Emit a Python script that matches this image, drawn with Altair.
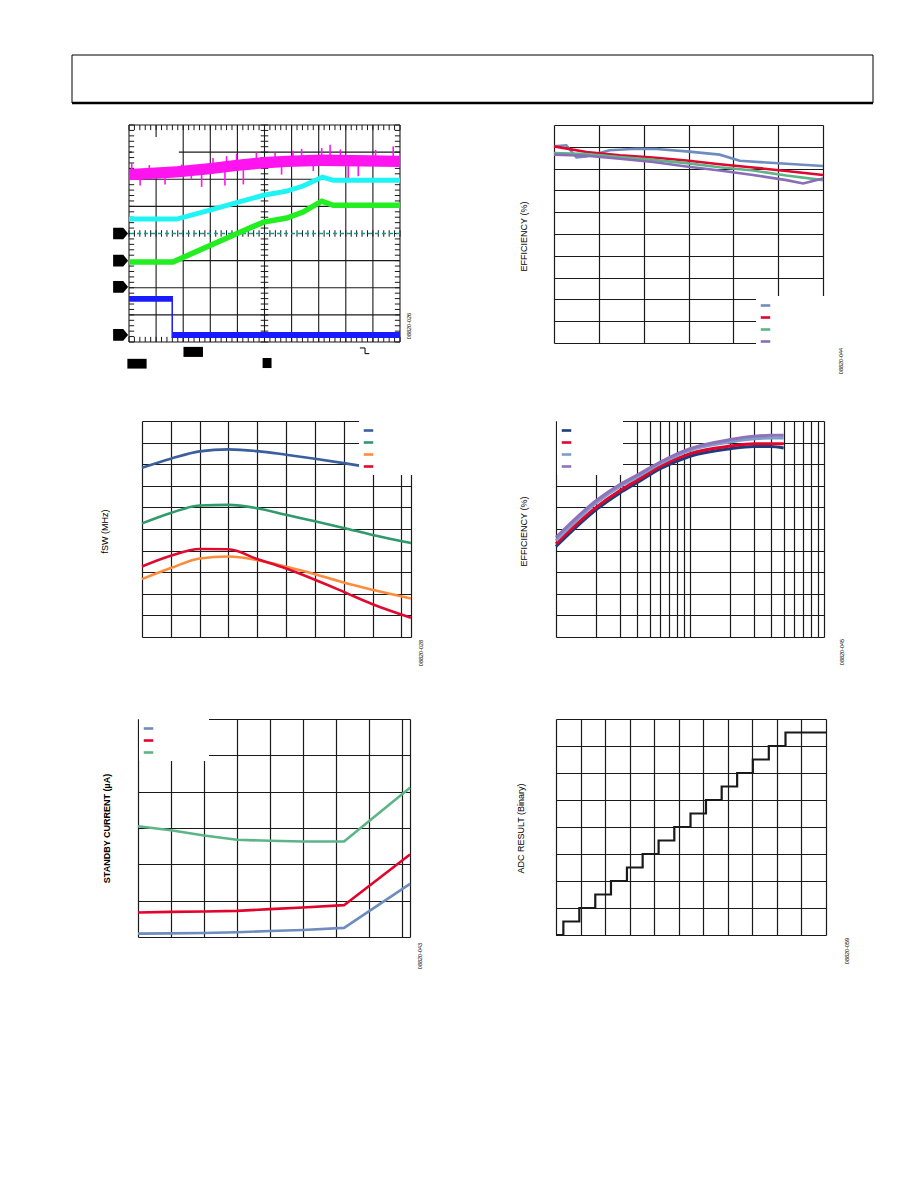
import altair as alt
import pandas as pd

FONT = "Liberation Sans"
GRID = "#1a1a1a"

# ================= Panel A: oscilloscope capture (x: 0-10 div, y: 0-8 div) =================
SCOPE_GRID_X = [0, 1, 2, 3, 4, 5, 6, 7, 8, 9, 10]
SCOPE_GRID_Y = [0, 1, 2, 3, 5, 6, 7, 8]
MAG_X = [0.0, 1.76, 2.99, 3.97, 4.96, 5.82, 7.11, 10.0]
MAG_LO = [5.96, 6.06, 6.18, 6.30, 6.40, 6.45, 6.49, 6.45]
MAG_HI = [6.38, 6.48, 6.60, 6.72, 6.82, 6.87, 6.91, 6.87]
SPIKE_X = [0.10, 0.41, 0.75, 1.33, 1.94, 2.30, 2.68, 3.10, 3.54, 3.60, 3.97, 4.22, 4.70, 5.39, 5.63,
           6.05, 6.37, 6.80, 7.11, 7.42, 7.80, 8.09, 8.46, 9.10, 9.75]
SPIKE_END = [6.60, 5.77, 6.52, 5.81, 6.54, 6.02, 5.72, 6.78, 5.77, 6.85, 6.94, 5.81, 6.98, 6.97, 6.17,
             7.05, 7.12, 6.30, 7.15, 7.27, 7.10, 5.93, 6.11, 7.08, 7.21]
SPIKE_BASE = [6.17, 6.18, 6.20, 6.24, 6.28, 6.31, 6.36, 6.42, 6.45, 6.46, 6.51, 6.53, 6.58, 6.63, 6.65,
              6.67, 6.68, 6.69, 6.70, 6.70, 6.70, 6.69, 6.68, 6.67, 6.67]
CYAN_X = [0.0, 1.76, 2.99, 3.97, 4.96, 5.82, 6.42, 7.14, 7.54, 10.0]
CYAN_Y = [4.53, 4.53, 4.86, 5.14, 5.41, 5.56, 5.75, 6.08, 5.96, 5.96]
GREEN_X = [0.0, 1.62, 2.99, 3.97, 4.96, 5.82, 6.42, 7.11, 7.54, 10.0]
GREEN_Y = [2.95, 2.95, 3.56, 3.99, 4.42, 4.57, 4.79, 5.19, 5.04, 5.04]
BLUE_X = [0.0, 1.59, 1.60, 10.0]
BLUE_LO = [1.48, 1.48, 0.15, 0.15]
BLUE_HI = [1.70, 1.70, 0.37, 0.37]
BLUE_EDGE = [1.595]
REF_LEVEL = [4.0]
MARKER_Y = [4.0, 3.0, 2.03, 0.26]
MARKER_X = [-0.31, -0.31, -0.31, -0.31]
BOX_X1 = [2.01, -0.06, 4.93]
BOX_X2 = [2.73, 0.65, 5.26]
BOX_Y1 = [-0.18, -0.62, -0.59]
BOX_Y2 = [-0.55, -0.98, -0.96]
MASK_X1, MASK_X2, MASK_Y1, MASK_Y2 = [0.11], [1.84], [6.05], [7.56]
TRIG_X = [8.52, 8.71, 8.71, 8.87]
TRIG_Y = [-0.22, -0.22, -0.43, -0.43]

# ================= Panel B: efficiency (linear x) =================
B_SERIES = ["B1", "B2", "B3", "B4"]
B_COLORS = ["#6f8cbe", "#e0062e", "#5db489", "#8a6db6"]
B1_X = [2.5, 2.638, 2.75, 2.861, 3.121, 3.419, 3.642, 3.977, 4.348, 4.571, 4.869, 5.092, 5.5]
B1_Y = [90.2, 90.7, 85.1, 85.6, 88.4, 89.1, 89.0, 87.9, 86.4, 83.6, 82.8, 82.2, 81.2]
B2_X = [2.5, 2.861, 3.233, 3.605, 3.977, 4.348, 4.72, 5.092, 5.5]
B2_Y = [90.2, 87.6, 86.1, 85.1, 83.7, 82.0, 80.5, 78.9, 77.1]
B3_X = [2.5, 2.861, 3.233, 3.605, 3.977, 4.348, 4.72, 5.092, 5.5]
B3_Y = [87.1, 86.7, 85.3, 84.0, 82.5, 80.6, 79.1, 76.8, 74.7]
B4_X = [2.5, 2.861, 3.233, 3.605, 3.977, 4.348, 4.72, 5.092, 5.278, 5.5]
B4_Y = [86.4, 85.9, 84.5, 83.0, 81.0, 79.1, 77.1, 74.7, 73.2, 75.5]

# ================= Panel C: switching frequency =================
C_SERIES = ["C1", "C2", "C3", "C4"]
C_COLORS = ["#3b5e9d", "#2f9a6a", "#ff8b3d", "#e00a30"]
C_X = [2.7, 3.0, 3.3, 3.6, 3.9, 4.2, 4.5, 4.8, 5.1, 5.5]
C1_Y = [3.567, 3.651, 3.719, 3.737, 3.721, 3.688, 3.651, 3.610, 3.567, 3.517]
C2_Y = [3.052, 3.149, 3.217, 3.223, 3.192, 3.131, 3.071, 3.010, 2.945, 2.870]
C3_Y = [2.536, 2.638, 2.727, 2.745, 2.712, 2.650, 2.582, 2.504, 2.437, 2.356]
C4_Y = [2.653, 2.752, 2.815, 2.812, 2.722, 2.634, 2.530, 2.418, 2.304, 2.179]

# ================= Panel D: efficiency vs load (log x) =================
D_SERIES = ["D1", "D2", "D3", "D4"]
D_COLORS = ["#1f3c7a", "#e3042d", "#7f9dca", "#8e72ba"]
D_X = [10, 20, 30, 40, 60, 100, 200, 300, 400, 500]
D1_Y = [41.9, 59.0, 66.7, 71.3, 77.9, 83.7, 87.2, 88.2, 88.2, 87.5]
D2_Y = [43.1, 60.1, 67.8, 72.4, 79.0, 84.9, 88.4, 89.5, 89.5, 89.5]
D3_Y = [44.6, 62.1, 69.7, 73.9, 80.2, 86.4, 90.3, 91.8, 92.1, 92.1]
D4_Y = [46.1, 63.2, 70.6, 74.8, 81.0, 87.2, 91.4, 92.9, 93.4, 93.4]

# ================= Panel E: standby current vs temperature =================
E_SERIES = ["E1", "E2", "E3"]
E_COLORS = ["#6f8cbe", "#e3042d", "#5db489"]
E_X = [-40, -20, 0, 20, 40, 60, 85, 125]
E1_Y = [0.46, 0.50, 0.55, 0.65, 0.83, 0.97, 1.25, 7.3]
E2_Y = [3.37, 3.46, 3.50, 3.60, 3.83, 4.06, 4.38, 11.35]
E3_Y = [15.23, 14.68, 13.98, 13.38, 13.24, 13.15, 13.15, 20.53]

# ================= Panel F: ADC transfer staircase =================
F_X = [0.0, 0.30, 0.95, 1.60, 2.24, 2.89, 3.53, 4.18, 4.82, 5.48, 6.11, 6.75, 7.38, 8.02, 8.67, 9.35, 11.0]
F_CODE = [0, 1, 2, 3, 4, 5, 6, 7, 8, 9, 10, 11, 12, 13, 14, 15, 15]

FIG_IDS = ["08820-026", "08820-044", "08820-028", "08820-045", "08820-043", "08820-059"]
TITLES = ["EFFICIENCY (%)", "fSW (MHz)", "EFFICIENCY (%)", "STANDBY CURRENT (\u00b5A)", "ADC RESULT (Binary)"]


def gaxis(values, **extra):
    opts = dict(values=values, grid=True, labels=False, ticks=False, domain=False,
                gridColor=GRID, gridWidth=1.2, gridOpacity=1)
    opts.update(extra)
    return alt.Axis(**opts)


def ytitle(text, tx, ty, bold=False):
    return dict(title=text, titleX=tx, titleY=ty, titleAngle=270, titleAlign="center",
                titleBaseline="middle", titleFont=FONT, titleFontSize=9,
                titleFontWeight="bold" if bold else "normal", titleColor="black")


def legend_cfg(lx, ly, box_w):
    return alt.Legend(title=None, orient="none", legendX=lx, legendY=ly, symbolType="stroke",
                      symbolStrokeWidth=2.6, symbolSize=90, labelExpr="''",
                      labelOffset=box_w - 16, labelFontSize=7, rowPadding=-2.6, padding=3,
                      fillColor="white")


def fig_id(text, x, y):
    return alt.Chart(pd.DataFrame({"t": [text]})).mark_text(
        angle=270, fontSize=5.5, font=FONT, color="black"
    ).encode(x=alt.value(x), y=alt.value(y), text="t:N")


def long_df(series, xs, ys, xname="x", yname="y", sname="s"):
    rows = []
    for s, xv, yv in zip(series, xs, ys):
        for a, b in zip(xv, yv):
            rows.append({sname: s, xname: a, yname: b})
    return pd.DataFrame(rows)


def spacer(w, h):
    return alt.Chart(pd.DataFrame({"v": [0]})).mark_point(opacity=0, size=1).properties(width=w, height=h)


def row(*cells):
    return alt.hconcat(*cells, spacing=0, bounds="flush").resolve_scale(color="independent")


# ---------------- Panel A ----------------
W1, H1 = 271, 217
sx1 = alt.Scale(domain=[0, 10], nice=False, zero=False)
sy1 = alt.Scale(domain=[0, 8], nice=False, zero=False)
minor = [round(0.2 * i, 1) for i in range(51)]
minor_y = [round(0.2 * i, 1) for i in range(41)]
vt = pd.DataFrame([{"x": m, "y0": a, "y1": b} for m in minor for a, b in [(0, 0.19), (7.81, 8), (3.88, 4.12)]])
ht = pd.DataFrame([{"y": m, "x0": a, "x1": b} for m in minor_y for a, b in [(0, 0.19), (9.81, 10), (4.86, 5.14)]])


def X1(f):
    return alt.X(f, scale=sx1, axis=None)


def Y1(f):
    return alt.Y(f, scale=sy1, axis=None)


a_gx = alt.Chart(pd.DataFrame({"x": SCOPE_GRID_X})).mark_rule(color=GRID, strokeWidth=1.1).encode(x=X1("x:Q"))
a_gy = alt.Chart(pd.DataFrame({"y": SCOPE_GRID_Y})).mark_rule(color=GRID, strokeWidth=1.1).encode(y=Y1("y:Q"))
a_mask = alt.Chart(pd.DataFrame({"x1": MASK_X1, "x2": MASK_X2, "y1": MASK_Y1, "y2": MASK_Y2})).mark_rect(
    color="white").encode(x=X1("x1:Q"), x2="x2:Q", y=Y1("y1:Q"), y2="y2:Q")
a_vt = alt.Chart(vt).mark_rule(color=GRID, strokeWidth=1).encode(x=X1("x:Q"), y=Y1("y0:Q"), y2="y1:Q")
a_ht = alt.Chart(ht).mark_rule(color=GRID, strokeWidth=1).encode(x=X1("x0:Q"), x2="x1:Q", y=Y1("y:Q"))
a_ref = alt.Chart(pd.DataFrame({"y": REF_LEVEL})).mark_rule(
    color="#139c9c", strokeWidth=1.6, strokeDash=[4, 3]).encode(y=Y1("y:Q"))
a_mag = alt.Chart(pd.DataFrame({"x": MAG_X, "lo": MAG_LO, "hi": MAG_HI})).mark_area(
    color="#ff14f0", opacity=1).encode(x=X1("x:Q"), y=Y1("lo:Q"), y2="hi:Q")
a_spk = alt.Chart(pd.DataFrame({"x": SPIKE_X, "a": SPIKE_BASE, "b": SPIKE_END})).mark_rule(
    color="#ff14f0", strokeWidth=1.6).encode(x=X1("x:Q"), y=Y1("a:Q"), y2="b:Q")
a_cyan = alt.Chart(pd.DataFrame({"x": CYAN_X, "y": CYAN_Y})).mark_line(
    color="#1ff4f4", strokeWidth=5).encode(x=X1("x:Q"), y=Y1("y:Q"))
a_green = alt.Chart(pd.DataFrame({"x": GREEN_X, "y": GREEN_Y})).mark_line(
    color="#22ee22", strokeWidth=5.5).encode(x=X1("x:Q"), y=Y1("y:Q"))
a_blue = alt.Chart(pd.DataFrame({"x": BLUE_X, "lo": BLUE_LO, "hi": BLUE_HI})).mark_area(
    color="#1a1aff", opacity=1).encode(x=X1("x:Q"), y=Y1("lo:Q"), y2="hi:Q")
a_edge = alt.Chart(pd.DataFrame({"x": BLUE_EDGE, "a": [BLUE_HI[1]], "b": [BLUE_LO[2]]})).mark_rule(
    color="#1a1aff", strokeWidth=1.5).encode(x=X1("x:Q"), y=Y1("a:Q"), y2="b:Q")
arrow = "M-1,-0.78L0.35,-0.78L1,0L0.35,0.78L-1,0.78Z"
a_mark = alt.Chart(pd.DataFrame({"x": MARKER_X, "y": MARKER_Y})).mark_point(
    shape=arrow, size=225, filled=True, color="black", opacity=1).encode(x=X1("x:Q"), y=Y1("y:Q"))
a_box = alt.Chart(pd.DataFrame({"x1": BOX_X1, "x2": BOX_X2, "y1": BOX_Y1, "y2": BOX_Y2})).mark_rect(
    color="black").encode(x=X1("x1:Q"), x2="x2:Q", y=Y1("y1:Q"), y2="y2:Q")
a_trig = alt.Chart(pd.DataFrame({"i": [0, 1, 2, 3], "x": TRIG_X, "y": TRIG_Y})).mark_line(
    color="black", strokeWidth=1).encode(x=X1("x:Q"), y=Y1("y:Q"), order="i:Q")
p1 = alt.layer(a_gx, a_gy, a_mask, a_vt, a_ht, a_ref, a_mag, a_spk, a_cyan, a_green, a_blue, a_edge,
               a_mark, a_box, a_trig, fig_id(FIG_IDS[0], 279.5, 201)).properties(width=W1, height=H1)

# ---------------- Panel B ----------------
W2, H2 = 269, 218
dfb = long_df(B_SERIES, [B1_X, B2_X, B3_X, B4_X], [B1_Y, B2_Y, B3_Y, B4_Y], "vin", "eff", "sb")
b_line = alt.Chart(dfb).mark_line(strokeWidth=2.6).encode(
    x=alt.X("vin:Q", scale=alt.Scale(domain=[2.5, 5.5], nice=False, zero=False),
            axis=gaxis([2.5, 3.0, 3.5, 4.0, 4.5, 5.0, 5.5]), title=None),
    y=alt.Y("eff:Q", scale=alt.Scale(domain=[0, 100], nice=False),
            axis=gaxis(list(range(0, 101, 10)), **ytitle(TITLES[0], -31, 111))),
    color=alt.Color("sb:N", scale=alt.Scale(domain=B_SERIES, range=B_COLORS), sort=B_SERIES,
                    legend=legend_cfg(202, 171, 68)),
    order=alt.Order("sb:N"),
)
p2 = alt.layer(b_line, fig_id(FIG_IDS[1], 287, 236)).properties(width=W2, height=H2)

# ---------------- Panel C ----------------
W3, H3 = 269, 216
dfc = long_df(C_SERIES, [C_X] * 4, [C1_Y, C2_Y, C3_Y, C4_Y], "vin", "fsw", "sc")
c_line = alt.Chart(dfc).mark_line(strokeWidth=2.6, interpolate="monotone").encode(
    x=alt.X("vin:Q", scale=alt.Scale(domain=[2.7, 5.5], nice=False, zero=False),
            axis=gaxis([2.7, 3.0, 3.3, 3.6, 3.9, 4.2, 4.5, 4.8, 5.1, 5.4, 5.5]), title=None),
    y=alt.Y("fsw:Q", scale=alt.Scale(domain=[2.0, 4.0], nice=False, zero=False),
            axis=gaxis([2.0, 2.2, 2.4, 2.6, 2.8, 3.0, 3.2, 3.4, 3.6, 3.8, 4.0], **ytitle(TITLES[1], -38, 110))),
    color=alt.Color("sc:N", scale=alt.Scale(domain=C_SERIES, range=C_COLORS), sort=C_SERIES,
                    legend=legend_cfg(217, 0, 52)),
)
p3 = alt.layer(c_line, fig_id(FIG_IDS[2], 279, 232)).properties(width=W3, height=H3)

# ---------------- Panel D ----------------
W4, H4 = 268, 216
dfd = long_df(D_SERIES, [D_X] * 4, [D1_Y, D2_Y, D3_Y, D4_Y], "iload", "eff", "sd")
log_vals = [10, 20, 30, 40, 50, 60, 70, 80, 90, 100, 200, 300, 400, 500, 600, 700, 800, 900, 1000]
d_line = alt.Chart(dfd).mark_line(strokeWidth=3, interpolate="monotone").encode(
    x=alt.X("iload:Q", scale=alt.Scale(type="log", domain=[10, 1000], nice=False),
            axis=gaxis(log_vals), title=None),
    y=alt.Y("eff:Q", scale=alt.Scale(domain=[0, 100], nice=False),
            axis=gaxis(list(range(0, 101, 10)), **ytitle(TITLES[2], -32.5, 110))),
    color=alt.Color("sd:N", scale=alt.Scale(domain=D_SERIES, range=D_COLORS), sort=D_SERIES,
                    legend=legend_cfg(1, 0, 63)),
)
p4 = alt.layer(d_line, fig_id(FIG_IDS[3], 285.5, 231)).properties(width=W4, height=H4)

# ---------------- Panel E ----------------
W5, H5 = 272, 218
dfe = long_df(E_SERIES, [E_X] * 3, [E1_Y, E2_Y, E3_Y], "temp", "cur", "se")
e_line = alt.Chart(dfe).mark_line(strokeWidth=2.6).encode(
    x=alt.X("temp:Q", scale=alt.Scale(domain=[-40, 125], nice=False, zero=False),
            axis=gaxis([-40, -20, 0, 20, 40, 60, 80, 100, 120, 125]), title=None),
    y=alt.Y("cur:Q", scale=alt.Scale(domain=[0, 30], nice=False),
            axis=gaxis([0, 5, 10, 15, 20, 25, 30], **ytitle(TITLES[3], -31.5, 109, bold=True))),
    color=alt.Color("se:N", scale=alt.Scale(domain=E_SERIES, range=E_COLORS), sort=E_SERIES,
                    legend=legend_cfg(1, 0, 67)),
)
p5 = alt.layer(e_line, fig_id(FIG_IDS[4], 282, 237)).properties(width=W5, height=H5)

# ---------------- Panel F ----------------
W6, H6 = 270, 216
dff = pd.DataFrame({"vin": F_X, "code": F_CODE})
f_line = alt.Chart(dff).mark_line(strokeWidth=2.2, interpolate="step-after", color="#1a1a1a").encode(
    x=alt.X("vin:Q", scale=alt.Scale(domain=[0, 11], nice=False, zero=False),
            axis=gaxis(list(range(12))), title=None),
    y=alt.Y("code:Q", scale=alt.Scale(domain=[0, 16], nice=False),
            axis=gaxis(list(range(0, 17, 2)), **ytitle(TITLES[4], -35.7, 109))),
)
p6 = alt.layer(f_line, fig_id(FIG_IDS[5], 290.5, 232)).properties(width=W6, height=H6)

# ---------------- Header frame ----------------
hdr = pd.DataFrame({"v": [0]})
header = alt.layer(
    alt.Chart(hdr).mark_rect(fill="white", fillOpacity=0, stroke="black", strokeWidth=1).encode(
        x=alt.value(0), x2=alt.value(801), y=alt.value(0), y2=alt.value(48)),
    alt.Chart(hdr).mark_rule(color="black", strokeWidth=2.5).encode(
        x=alt.value(0), x2=alt.value(801), y=alt.value(48)),
).properties(width=801, height=49)

S = spacer
chart = alt.vconcat(
    S(1, 54),
    row(S(72, 1), header),
    S(1, 19),
    row(S(129, 1), p1, S(154, 1), p2),
    S(1, 46),
    row(S(142, 1), p3, S(145, 1), p4),
    S(1, 52),
    row(S(138, 1), p5, S(146, 1), p6),
    spacing=0,
).resolve_scale(color="independent").properties(padding=0, background="white").configure(
    font=FONT).configure_view(stroke=None)

chart.save("out.html", embed_options={"renderer": "svg", "actions": False})
